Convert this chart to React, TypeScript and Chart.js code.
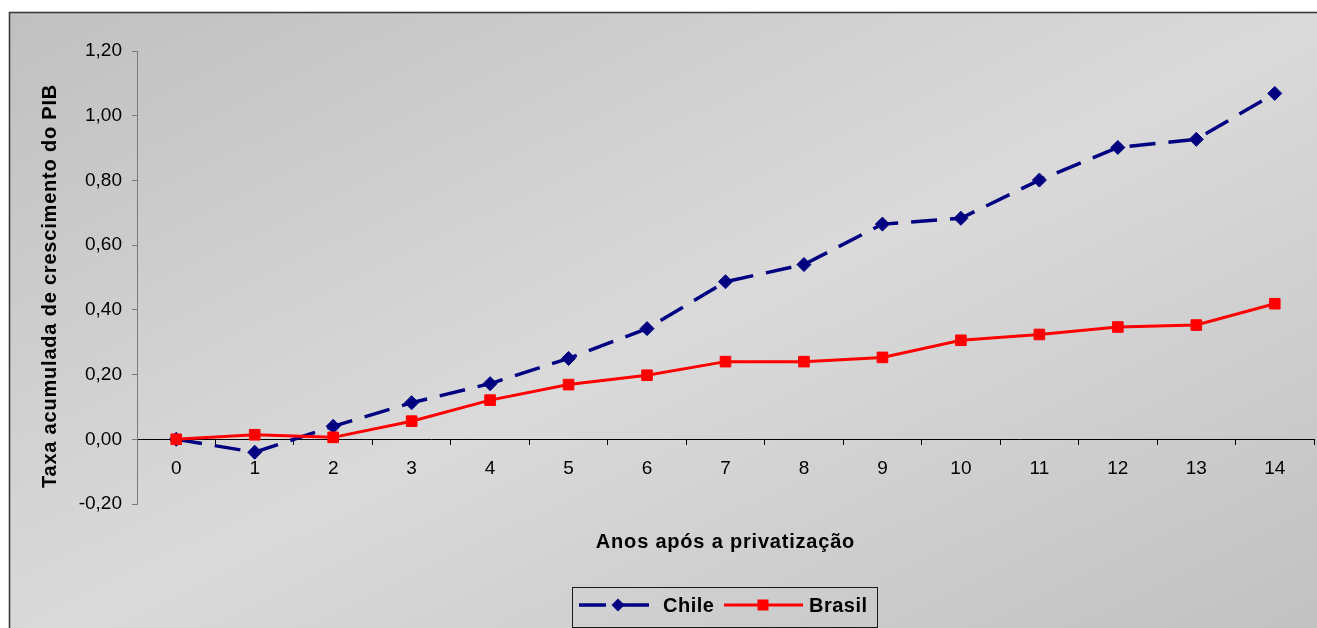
import React, { useEffect, useRef } from 'react';
import { Chart, registerables } from 'chart.js';

Chart.register(...registerables);

// Years after privatization (category axis)
const years = ['0', '1', '2', '3', '4', '5', '6', '7', '8', '9', '10', '11', '12', '13', '14'];

// Accumulated GDP growth rate
const chile = [0.0, -0.04, 0.04, 0.113, 0.172, 0.25, 0.342, 0.487, 0.54, 0.665, 0.683, 0.801, 0.902, 0.927, 1.069];
const brasil = [0.0, 0.014, 0.006, 0.056, 0.121, 0.169, 0.198, 0.24, 0.24, 0.253, 0.306, 0.324, 0.347, 0.353, 0.419];

const seriesNames = ['Chile', 'Brasil'];
const seriesColors = ['#000080', '#FF0000'];

const yMin = -0.2;
const yMax = 1.2;
const yStep = 0.2;

const xTitle = 'Anos após a privatização';
const yTitle = 'Taxa acumulada de crescimento do PIB';

const FONT = "'Liberation Sans', Arial, sans-serif";

const W = 1317;
const H = 628;

// Panel background: diagonal grey gradient with a dark frame line
const panelPlugin = {
  id: 'panel',
  beforeDraw(chart: any) {
    const ctx = chart.ctx as CanvasRenderingContext2D;
    ctx.save();
    ctx.fillStyle = '#ffffff';
    ctx.fillRect(0, 0, W, H);
    const fx = 9.5;
    const fy = 12.5;
    const fw = 1330;
    const fh = 640;
    // gradient whose bands run parallel to the bottom-left / top-right diagonal
    const vx = 1 / fw;
    const vy = 1 / fh;
    const n = vx * vx + vy * vy;
    const g = ctx.createLinearGradient(fx, fy, fx + (vx / n) * 2, fy + (vy / n) * 2);
    g.addColorStop(0, '#c0c0c0');
    g.addColorStop(0.5, '#dadada');
    g.addColorStop(1, '#c0c0c0');
    ctx.fillStyle = g;
    ctx.fillRect(fx, fy, fw, fh);
    ctx.strokeStyle = '#3c3c3c';
    ctx.lineWidth = 1.6;
    ctx.strokeRect(fx, fy, fw, fh);
    ctx.restore();
  },
};

// Axis titles and the boxed legend
const labelsPlugin = {
  id: 'labels',
  afterDraw(chart: any) {
    const ctx = chart.ctx as CanvasRenderingContext2D;
    const area = chart.chartArea;
    ctx.save();
    ctx.fillStyle = '#000';
    ctx.font = `bold 20px ${FONT}`;
    (ctx as any).letterSpacing = '0.8px';
    ctx.textAlign = 'center';
    ctx.textBaseline = 'middle';
    ctx.fillText(xTitle, (area.left + area.right) / 2, 542);

    ctx.save();
    ctx.translate(50, 286);
    ctx.rotate(-Math.PI / 2);
    ctx.fillText(yTitle, 0, 0);
    ctx.restore();

    // legend box
    ctx.strokeStyle = '#1a1a1a';
    ctx.lineWidth = 1;
    ctx.strokeRect(572.5, 587.5, 305, 40);

    const ly = 605;
    // Chile sample: dashed line with diamond
    ctx.strokeStyle = seriesColors[0];
    ctx.lineWidth = 3.5;
    ctx.beginPath();
    ctx.moveTo(579, ly);
    ctx.lineTo(606, ly);
    ctx.moveTo(614, ly);
    ctx.lineTo(649, ly);
    ctx.stroke();
    ctx.fillStyle = seriesColors[0];
    ctx.beginPath();
    ctx.moveTo(618 - 6.5, ly);
    ctx.lineTo(618, ly - 6.5);
    ctx.lineTo(618 + 6.5, ly);
    ctx.lineTo(618, ly + 6.5);
    ctx.closePath();
    ctx.fill();

    // Brasil sample: solid line with square
    ctx.strokeStyle = seriesColors[1];
    ctx.lineWidth = 3;
    ctx.beginPath();
    ctx.moveTo(724, ly);
    ctx.lineTo(803, ly);
    ctx.stroke();
    ctx.fillStyle = seriesColors[1];
    ctx.fillRect(763 - 5.5, ly - 5.5, 11, 11);

    ctx.fillStyle = '#000';
    ctx.textAlign = 'left';
    (ctx as any).letterSpacing = '0.5px';
    ctx.fillText(seriesNames[0], 663, ly + 1);
    ctx.fillText(seriesNames[1], 809, ly + 1);
    ctx.restore();
  },
};

const formatTick = (v: any) => {
  const n = Math.abs(Number(v)) < 1e-9 ? 0 : Number(v);
  return n.toFixed(2).replace('.', ',');
};

export default function App() {
  const canvasRef = useRef<HTMLCanvasElement | null>(null);

  useEffect(() => {
    const canvas = canvasRef.current;
    if (!canvas) return;
    const chart = new Chart(canvas, {
      type: 'line',
      data: {
        labels: years,
        datasets: [
          {
            label: seriesNames[0],
            data: chile,
            borderColor: seriesColors[0],
            backgroundColor: seriesColors[0],
            borderWidth: 3.5,
            borderDash: [26, 13],
            pointStyle: 'rectRot',
            pointRadius: 7,
            pointBorderWidth: 1,
            pointBackgroundColor: seriesColors[0],
            pointBorderColor: seriesColors[0],
            tension: 0,
            order: 1,
          },
          {
            label: seriesNames[1],
            data: brasil,
            borderColor: seriesColors[1],
            backgroundColor: seriesColors[1],
            borderWidth: 3,
            pointStyle: 'rect',
            pointRadius: 7.5,
            pointBorderWidth: 1,
            pointBackgroundColor: seriesColors[1],
            pointBorderColor: seriesColors[1],
            tension: 0,
            order: 0,
          },
        ],
      },
      options: {
        animation: false,
        responsive: false,
        devicePixelRatio: 1,
        layout: { autoPadding: false, padding: { left: 0, top: 51, right: 3, bottom: H - 504 } },
        plugins: {
          legend: { display: false },
          tooltip: { enabled: false },
        },
        scales: {
          x: {
            type: 'category',
            offset: true,
            position: { y: 0 } as any,
            afterFit: (scale: any) => {
              scale.paddingLeft = 0;
              scale.paddingRight = 0;
            },
            grid: {
              offset: true,
              drawOnChartArea: false,
              drawTicks: true,
              tickLength: 5,
              color: '#000',
            },
            border: { display: true, color: '#000', width: 1 },
            ticks: {
              color: '#000',
              font: { family: FONT, size: 19 },
              padding: 13,
              maxRotation: 0,
              autoSkip: false,
            },
          },
          y: {
            type: 'linear',
            min: yMin,
            max: yMax,
            afterFit: (scale: any) => {
              scale.width = 137;
            },
            grid: {
              drawOnChartArea: false,
              drawTicks: true,
              tickLength: 5,
              color: '#7a7a7a',
            },
            border: { display: true, color: '#7a7a7a', width: 1 },
            ticks: {
              stepSize: yStep,
              color: '#000',
              font: { family: FONT, size: 19 },
              padding: 10,
              callback: formatTick,
            },
          },
        },
      },
      plugins: [panelPlugin, labelsPlugin],
    });
    return () => chart.destroy();
  }, []);

  return (
    <div style={{ position: 'absolute', left: 0, top: 0, width: W, height: H }}>
      <canvas ref={canvasRef} width={W} height={H} style={{ display: 'block' }} />
    </div>
  );
}
